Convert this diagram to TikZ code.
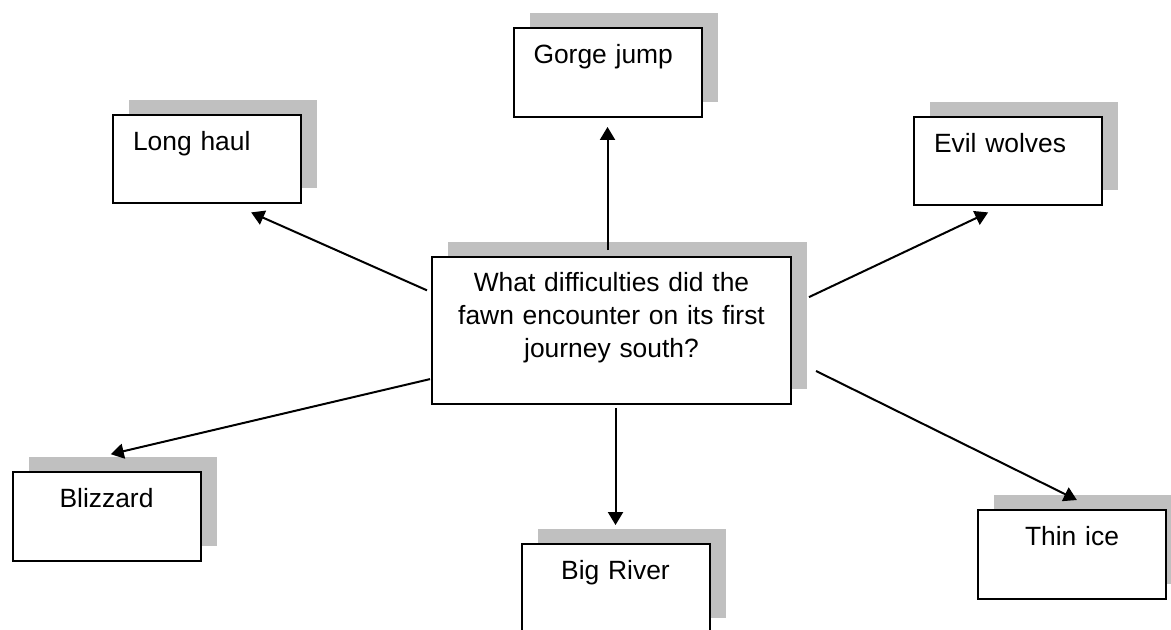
\documentclass[tikz,border=0pt]{standalone}
\usepackage{fontspec}
\setmainfont{Liberation Sans}
\definecolor{shadowgray}{HTML}{C0C0C0}
\usetikzlibrary{arrows.meta,shadows}

\begin{document}
\begin{tikzpicture}[
  x=0.5pt, y=-0.5pt,
  topic/.style={draw, line width=1pt, fill=white,
    font=\fontsize{13.2pt}{16.5pt}\selectfont,
    drop shadow={shadow xshift=8pt, shadow yshift=7.5pt, fill=shadowgray, opacity=1},
    inner xsep=10pt, inner ysep=8.5pt, text width=74pt,
    text height=9.45pt, text depth=18pt},
  link/.style={-{Triangle[length=6.5pt,width=7.5pt]}, line width=1pt}
]
  \useasboundingbox (0,0) rectangle (1171,630);

  % question hub
  \node[topic, inner xsep=9.75pt, inner ysep=8pt, text width=160pt,
    text depth=48pt, align=center] (hub) at (611.5,330.5)
    {What difficulties did the\\fawn encounter on its first\\journey south?};

  % difficulties
  \node[topic, align=left] (gorge) at (607.5,72.5) {Gorge jump};
  \node[topic, align=left] (longhaul) at (207,159) {Long haul};
  \node[topic, align=left] (wolves) at (1008,161) {Evil wolves};
  \node[topic, align=center] (blizzard) at (106.5,516.5) {Blizzard};
  \node[topic, align=center] (river) at (615.5,588.5) {Big River};
  \node[topic, align=center] (ice) at (1072,554.5) {Thin ice};

  % arrows out of the hub
  \draw[link, shorten <=3pt, shorten >=4.5pt] (hub.north -| gorge.south) -- (gorge.south);
  \draw[link, shorten <=2.2pt, shorten >=9.8pt] (hub.168) -- (longhaul.300);
  \draw[link, shorten <=9.4pt, shorten >=7pt] (hub.8) -- (wolves.261);
  \draw[link, shorten <=0.5pt, shorten >=36.8pt] (hub.195) -- (blizzard.146);
  \draw[link, shorten <=1.5pt, shorten >=9pt] (hub.south -| river.north) -- (river.north);
  \draw[link, shorten <=13.4pt, shorten >=10.2pt] (hub.351) -- (ice.63);
\end{tikzpicture}
\end{document}
